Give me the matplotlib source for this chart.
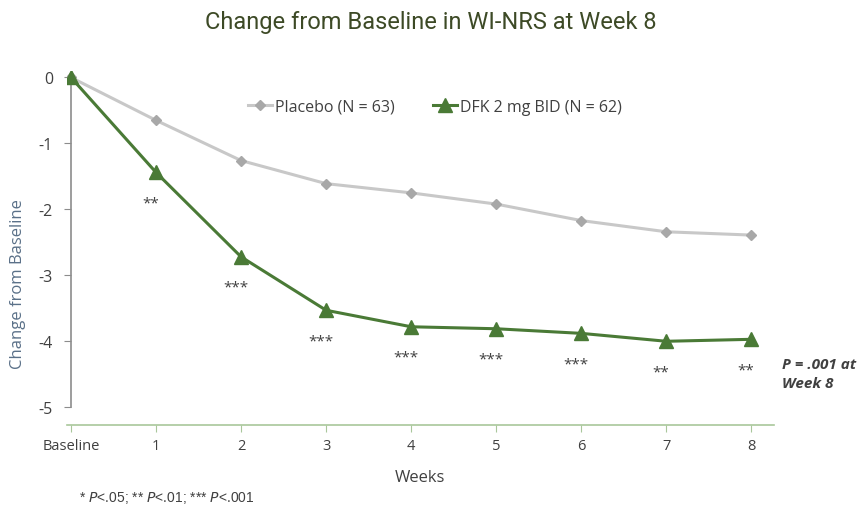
import numpy as np
import matplotlib
matplotlib.use('Agg')
import matplotlib.pyplot as plt

plt.rcParams['font.family'] = ['Open Sans', 'DejaVu Sans']

# data
weeks = [0, 1, 2, 3, 4, 5, 6, 7, 8]
week_labels = ['Baseline', '1', '2', '3', '4', '5', '6', '7', '8']
placebo = [0, -0.65, -1.26, -1.61, -1.75, -1.92, -2.17, -2.34, -2.39]
dfk = [0, -1.44, -2.72, -3.53, -3.78, -3.81, -3.88, -4.00, -3.97]
stars = ['', '**', '***', '***', '***', '***', '***', '**', '**']

green = '#4a7a36'
gray_line = '#c8c8c8'
gray_mark = '#a8a8a8'
text_col = '#404040'

fig = plt.figure(figsize=(8.62, 5.06), dpi=100)
ax = fig.add_axes([0.0774, 0.158, 0.820, 0.700])

ax.plot(weeks, placebo, color=gray_line, lw=2.2, marker='D', ms=5,
        mfc=gray_mark, mec=gray_mark, label='Placebo (N = 63)', zorder=2)
ax.plot(weeks, dfk, color=green, lw=2.2, marker='^', ms=10,
        mfc=green, mec=green, label='DFK 2 mg BID (N = 62)', zorder=3)

# significance stars under the DFK points
for x, y, s in zip(weeks, dfk, stars):
    if s:
        ax.annotate(s, (x, y), xytext=(-4, -22), textcoords='offset points',
                    ha='center', va='center', fontsize=11, color=text_col)

ax.set_xlim(-0.05, 8.26)
ax.set_ylim(-5.27, 0.1)
ax.set_xticks(weeks)
ax.set_xticklabels(week_labels)
ax.set_yticks([0, -1, -2, -3, -4, -5])
ax.set_yticklabels(['0', '-1', '-2', '-3', '-4', '-5'])

for s in ['top', 'right']:
    ax.spines[s].set_visible(False)
ax.spines['left'].set_position(('data', 0))
ax.spines['left'].set_bounds(-5, 0)
ax.spines['left'].set_color('#8c8c8c')
ax.spines['left'].set_linewidth(1.2)
ax.spines['bottom'].set_color('#a9c79b')
ax.spines['bottom'].set_linewidth(1.2)

ax.tick_params(axis='y', direction='out', length=5, color='#8c8c8c',
               labelsize=11.5, labelcolor=text_col, pad=8)
ax.tick_params(axis='x', direction='out', length=5, color='#a9c79b',
               labelsize=10.5, labelcolor=text_col, pad=4)

ax.set_xlabel('Weeks', fontsize=12, color=text_col, labelpad=12)
fig.text(0.021, 1 - 284 / 506, 'Change from Baseline', rotation=90, ha='center',
         va='center', fontsize=12, color='#5a7088')

ax.legend(loc='upper left', bbox_to_anchor=(0.236, 0.962), ncol=2, frameon=False,
          fontsize=11.5, labelcolor=text_col, handlelength=1.5, handletextpad=0.2,
          columnspacing=2.4)

fig.text(0.5, 0.955, 'Change from Baseline in WI-NRS at Week 8', ha='center',
         va='center', fontsize=17, color='#3d4a26', family=['Roboto', 'DejaVu Sans'])
fig.text(0.907, 0.26, 'P = .001 at\nWeek 8', ha='left', va='center', fontsize=11,
         fontweight='bold', style='italic', color=text_col, linespacing=1.5)
fig.text(0.092, 0.016, r'* $\it{P}$<.05; ** $\it{P}$<.01; *** $\it{P}$<.001',
         ha='left', va='center', fontsize=10, color=text_col,
         family=['Liberation Sans', 'DejaVu Sans'])

fig.savefig('out.png', dpi=100)
